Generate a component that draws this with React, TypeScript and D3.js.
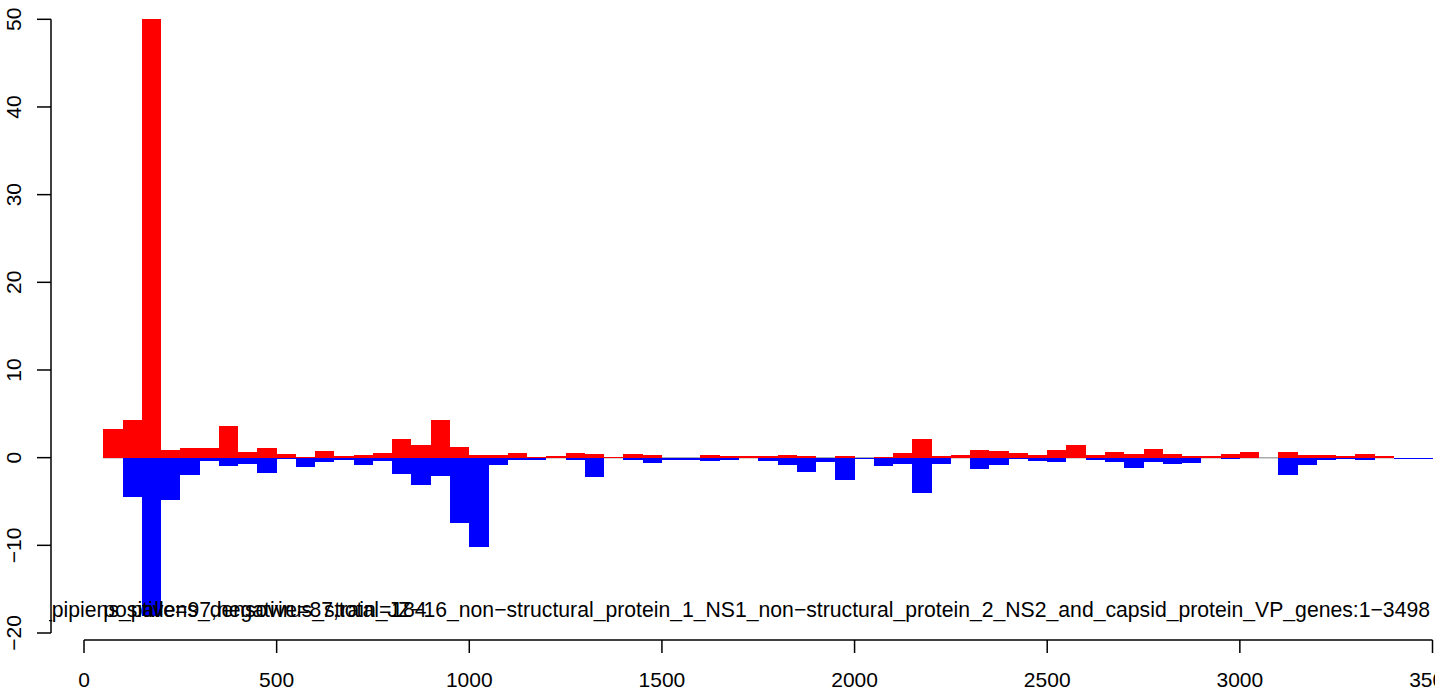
import React from "react";
import * as d3 from "d3";

const binStarts: number[] = d3.range(50, 3500, 50);
const positiveValues: number[] = [
  3.3, 4.3, 50, 0.9, 1.1, 1.1, 3.6, 0.65, 1.1, 0.45,
  0.1, 0.78, 0.2, 0.32, 0.55, 2.14, 1.46, 4.3, 1.23, 0.32,
  0.32, 0.55, 0.1, 0.2, 0.55, 0.43, 0.1, 0.43, 0.32, 0,
  0, 0.32, 0.2, 0.2, 0.2, 0.32, 0.2, 0, 0.2, 0,
  0.1, 0.55, 2.14, 0.2, 0.32, 0.89, 0.78, 0.55, 0.32, 0.89,
  1.46, 0.32, 0.66, 0.43, 1.0, 0.43, 0.2, 0.2, 0.43, 0.66,
  0, 0.66, 0.32, 0.32, 0.2, 0.43, 0.2, 0, 0,
];
const negativeValues: number[] = [
  0, -4.47, -18.1, -4.81, -1.96, -0.36, -0.93, -0.71, -1.73, -0.14,
  -1.05, -0.48, -0.25, -0.82, -0.36, -1.85, -3.1, -2.08, -7.43, -10.17,
  -0.82, -0.25, -0.25, 0, -0.25, -2.19, 0, -0.25, -0.59, -0.25,
  -0.25, -0.36, -0.25, 0, -0.36, -0.82, -1.62, -0.48, -2.53, -0.1,
  -0.93, -0.71, -4.01, -0.71, 0, -1.28, -0.82, -0.1, -0.36, -0.48,
  0, -0.25, -0.48, -1.16, -0.48, -0.71, -0.59, 0, -0.1, 0,
  0, -1.96, -0.82, -0.25, -0.1, -0.25, 0, -0.1, -0.1,
];
const binWidth = 50;
const xTicks: number[] = [0, 500, 1000, 1500, 2000, 2500, 3000, 3500];
const yTicks: number[] = [-20, -10, 0, 10, 20, 30, 40, 50];
const countLabel = "positive=97,negative=87,total=184";
const titleLabel =
  "Culex_pipiens_pallens_densovirus_strain_JZ\u221216_non\u2212structural_protein_1_NS1_non\u2212structural_protein_2_NS2_and_capsid_protein_VP_genes:1\u22123498";

const W = 1435;
const H = 688;
const font = "'Liberation Sans', Arial, Helvetica, sans-serif";

export default function App() {
  const x = d3.scaleLinear().domain([0, 3500]).range([84, 1432.5]);
  const y = d3.scaleLinear().domain([-20, 50]).range([633, 19.3]);
  const y0 = y(0);

  return (
    <svg
      width={W}
      height={H}
      style={{ position: "absolute", left: 0, top: 0, background: "#fff" }}
      fontFamily={font}
    >
      <defs>
        <clipPath id="plotClip">
          <rect x={49} y={0} width={W - 49} height={H} />
        </clipPath>
      </defs>
      <rect x={0} y={0} width={W} height={H} fill="#fff" />
      {/* zero line */}
      <line x1={x(50)} x2={x(3400)} y1={y0} y2={y0} stroke="#aaaaaa" strokeWidth={1.5} />
      {/* positive bars */}
      {binStarts.map((b, i) =>
        positiveValues[i] > 0 ? (
          <rect
            key={"p" + b}
            x={x(b)}
            width={x(b + binWidth) - x(b)}
            y={y(positiveValues[i])}
            height={y0 - y(positiveValues[i])}
            fill="#ff0000"
            shapeRendering="crispEdges"
          />
        ) : null
      )}
      {/* negative bars */}
      {binStarts.map((b, i) =>
        negativeValues[i] < 0 ? (
          <rect
            key={"n" + b}
            x={x(b)}
            width={x(b + binWidth) - x(b)}
            y={y0}
            height={Math.max(1, y(negativeValues[i]) - y0)}
            fill="#0000ff"
            shapeRendering="crispEdges"
          />
        ) : null
      )}
      {/* texts */}
      <g clipPath="url(#plotClip)">
        <text x={1430} y={616.5} fontSize={21.2} textAnchor="end" fill="#000">
          {titleLabel}
        </text>
        <text x={x(50)} y={616.5} fontSize={21.2} textAnchor="start" fill="#000">
          {countLabel}
        </text>
      </g>
      {/* y axis */}
      <line x1={51} x2={51} y1={y(50)} y2={y(-20)} stroke="#000" strokeWidth={1.5} />
      {yTicks.map((t) => (
        <g key={"yt" + t}>
          <line x1={37} x2={51} y1={y(t)} y2={y(t)} stroke="#000" strokeWidth={1.5} />
          <text
            transform={`translate(21,${y(t)}) rotate(-90)`}
            textAnchor="middle"
            fontSize={21}
            fill="#000"
          >
            {t < 0 ? "\u2212" + Math.abs(t) : String(t)}
          </text>
        </g>
      ))}
      {/* x axis */}
      <line x1={x(0)} x2={x(3500)} y1={640} y2={640} stroke="#000" strokeWidth={1.5} />
      {xTicks.map((t) => (
        <g key={"xt" + t}>
          <line x1={x(t)} x2={x(t)} y1={640} y2={653} stroke="#000" strokeWidth={1.5} />
          <text x={x(t)} y={686.5} textAnchor="middle" fontSize={21} fill="#000">
            {String(t)}
          </text>
        </g>
      ))}
    </svg>
  );
}
